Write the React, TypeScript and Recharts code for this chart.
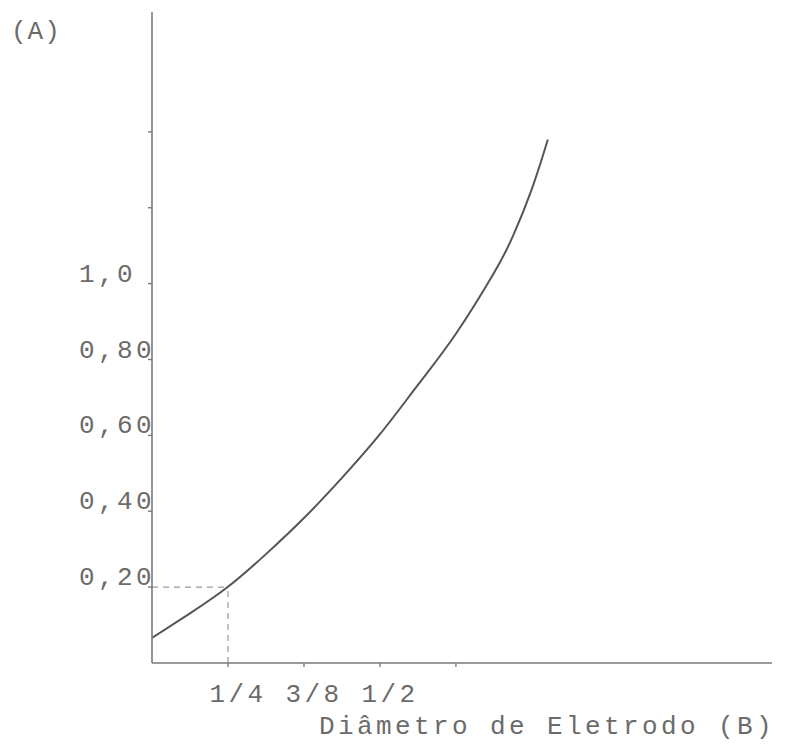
import React from 'react';
import { LineChart, Line, XAxis, YAxis, ReferenceLine, Label } from 'recharts';

const diameterPos = [0, 0.5, 1, 1.5, 2, 2.5, 3, 3.5, 4, 4.5, 4.75, 5, 5.21];
const currentValues = [0.066, 0.131, 0.201, 0.287, 0.382, 0.488, 0.603, 0.733, 0.868, 1.028, 1.125, 1.25, 1.38];
const xTickPositions = [1, 2, 3, 4];
const xTickLabels = ['1/4', '3/8', '1/2', ''];
const yTickValues = [0.2, 0.4, 0.6, 0.8, 1.0, 1.2, 1.4];
const yTickLabels = ['0,20', '0,40', '0,60', '0,80', '1,0', '', ''];
const xAxisTitle = 'Diâmetro de Eletrodo (B)';
const yAxisTitle = '(A)';
const guidePoint = { x: 1, y: 0.2 };

const data = diameterPos.map((x, i) => ({ x, y: currentValues[i] }));

const FONT = "'Liberation Mono', 'DejaVu Sans Mono', monospace";
const TEXT_COLOR = '#6b6b6b';
const AXIS_COLOR = '#7a7a7a';

const textStyle = {
  fontFamily: FONT,
  fontSize: 26,
  letterSpacing: 3.4,
  fill: TEXT_COLOR,
};

const YTick = (props: any) => {
  const { x, y, index } = props;
  const label = yTickLabels[index] ?? '';
  return (
    <text x={x - 67} y={y - 9} textAnchor="start" dominantBaseline="central" style={textStyle}>
      {label}
    </text>
  );
};

const XTick = (props: any) => {
  const { x, y, index } = props;
  const label = xTickLabels[index] ?? '';
  return (
    <text x={x + 10} y={y + 33} textAnchor="middle" style={textStyle}>
      {label}
    </text>
  );
};

const XTitle = (props: any) => {
  const vb = props.viewBox || {};
  return (
    <text x={vb.x + vb.width + 3} y={vb.y + 71} textAnchor="end" style={textStyle}>
      {xAxisTitle}
    </text>
  );
};

const YTitle = (props: any) => {
  const vb = props.viewBox || {};
  return (
    <text x={vb.x + vb.width - 141} y={vb.y + 27} textAnchor="start" style={{ ...textStyle, letterSpacing: 1 }}>
      {yAxisTitle}
    </text>
  );
};

export default function App() {
  return (
    <div style={{ position: 'absolute', left: 0, top: 0, width: 785, height: 753, background: '#fff' }}>
      <LineChart
        width={785}
        height={753}
        data={data}
        margin={{ top: 12, right: 13, bottom: 0, left: 72 }}
      >
        <XAxis
          type="number"
          dataKey="x"
          domain={[0, 8.16]}
          ticks={xTickPositions}
          tick={<XTick />}
          height={90}
          axisLine={{ stroke: AXIS_COLOR, strokeWidth: 1.6 }}
          tickLine={{ stroke: AXIS_COLOR, strokeWidth: 1.4 }}
          tickSize={4}
          tickMargin={2}
          allowDataOverflow
        >
          <Label content={<XTitle />} />
        </XAxis>
        <YAxis
          type="number"
          dataKey="y"
          domain={[0, 1.716]}
          ticks={yTickValues}
          tick={<YTick />}
          width={80}
          axisLine={{ stroke: AXIS_COLOR, strokeWidth: 1.6 }}
          tickLine={{ stroke: AXIS_COLOR, strokeWidth: 1.4 }}
          tickSize={4}
          tickMargin={2}
          allowDataOverflow
        >
          <Label content={<YTitle />} />
        </YAxis>
        <ReferenceLine
          segment={[{ x: 0, y: guidePoint.y }, { x: guidePoint.x, y: guidePoint.y }]}
          stroke="#9a9a9a"
          strokeWidth={1.2}
          strokeDasharray="6 5"
        />
        <ReferenceLine
          segment={[{ x: guidePoint.x, y: 0 }, { x: guidePoint.x, y: guidePoint.y }]}
          stroke="#9a9a9a"
          strokeWidth={1.2}
          strokeDasharray="6 5"
        />
        <Line
          type="natural"
          dataKey="y"
          stroke="#555555"
          strokeWidth={2}
          dot={false}
          isAnimationActive={false}
        />
      </LineChart>
    </div>
  );
}
